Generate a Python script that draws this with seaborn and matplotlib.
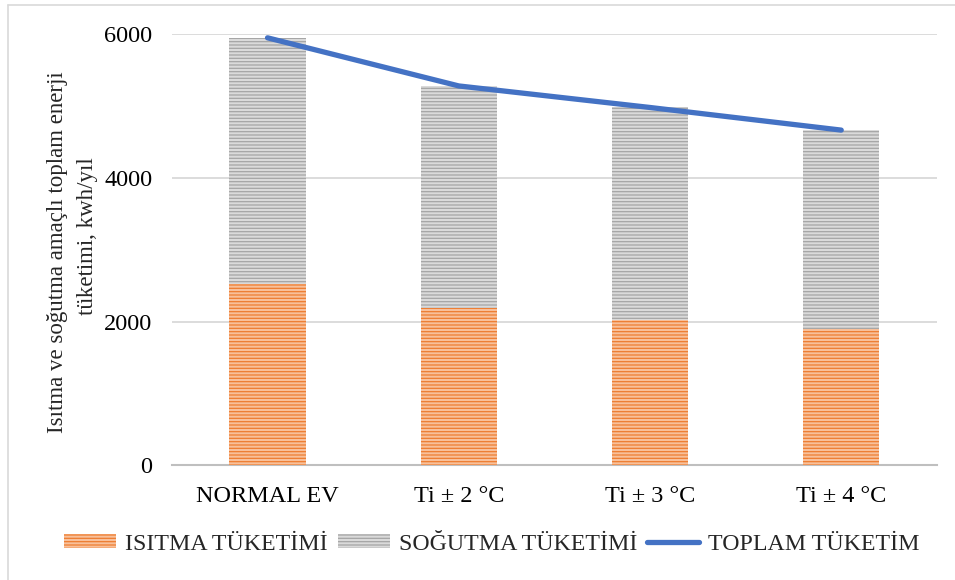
import matplotlib
matplotlib.use("Agg")
import matplotlib.pyplot as plt
from matplotlib.patches import Patch
from matplotlib.lines import Line2D
import seaborn as sns
import pandas as pd

# Energy consumption per scenario (kWh/year)
categories = ["NORMAL EV", "Ti ± 2 °C", "Ti ± 3 °C", "Ti ± 4 °C"]
heating = [2520, 2185, 2020, 1895]
cooling = [3430, 3095, 2960, 2770]
total = [h + c for h, c in zip(heating, cooling)]

yticks = [0, 2000, 4000, 6000]
series_names = ["ISITMA TÜKETİMİ", "SOĞUTMA TÜKETİMİ", "TOPLAM TÜKETİM"]
ylabel_lines = ["Isıtma ve soğutma amaçlı toplam enerji", "tüketimi, kwh/yıl"]

df = pd.DataFrame({"kategori": categories, "isitma": heating,
                   "sogutma": cooling, "toplam": total})

sns.set_theme(style="white")
plt.rcParams["font.family"] = ["Liberation Serif", "DejaVu Serif"]
plt.rcParams["hatch.linewidth"] = 0.9

FS = 17.5
ORANGE_FACE, ORANGE_HATCH = "#F8C09A", "#ED7D31"
GRAY_FACE, GRAY_HATCH = "#DADADA", "#A5A5A5"
BLUE = "#4472C4"
HATCH = "-----"

W, H = 955, 580
fig = plt.figure(figsize=(W / 100, H / 100), dpi=100)
ax = fig.add_axes([0.180, 0.198, 0.801, 0.743])

# stacked bars: full total in gray, heating part drawn over it in orange
sns.barplot(data=df, x="kategori", y="toplam", ax=ax, color=GRAY_FACE,
            saturation=1, width=0.4, edgecolor=GRAY_HATCH, linewidth=0,
            hatch=HATCH, zorder=2)
sns.barplot(data=df, x="kategori", y="isitma", ax=ax, color=ORANGE_FACE,
            saturation=1, width=0.4, edgecolor=ORANGE_HATCH, linewidth=0,
            hatch=HATCH, zorder=3)
for p in ax.patches:
    p.set_linewidth(0)

sns.lineplot(data=df, x="kategori", y="toplam", ax=ax, color=BLUE,
             linewidth=3.8, sort=False, zorder=4,
             solid_capstyle="round", solid_joinstyle="round")
for ln in ax.lines:
    ln.set_clip_on(False)

ax.set_xlim(-0.5, 3.5)
ax.set_ylim(0, 6000)
ax.set_yticks(yticks)
ax.set_yticklabels([str(t) for t in yticks])
ax.yaxis.grid(True, color="#D9D9D9", linewidth=1.3, zorder=0)
ax.set_axisbelow(True)
for side in ["top", "right", "left"]:
    ax.spines[side].set_visible(False)
ax.spines["bottom"].set_color("#BFBFBF")
ax.spines["bottom"].set_linewidth(1.5)
ax.spines["bottom"].set_zorder(1)
ax.tick_params(axis="both", length=0, labelsize=FS, colors="black")
ax.tick_params(axis="y", pad=14)
ax.tick_params(axis="x", pad=15)
ax.set_xlabel("")
ax.set_ylabel("")

# two-line vertical axis title
fig.text(57 / W, 1 - 252 / H, ylabel_lines[0], rotation=90, ha="center",
         va="center", fontsize=16.5)
fig.text(87 / W, 1 - 236 / H, ylabel_lines[1], rotation=90, ha="center",
         va="center", fontsize=16.5)

handles = [
    Patch(facecolor=ORANGE_FACE, edgecolor=ORANGE_HATCH, hatch=HATCH, linewidth=0),
    Patch(facecolor=GRAY_FACE, edgecolor=GRAY_HATCH, hatch=HATCH, linewidth=0),
    Line2D([0], [0], color=BLUE, linewidth=3.8, solid_capstyle="round"),
]
fig.legend(handles, series_names, loc="center", bbox_to_anchor=(0.515, 0.062),
           ncol=3, frameon=False, fontsize=17.2, handlelength=2.2,
           handleheight=0.55, handletextpad=0.37, columnspacing=0.4)

# thin frame around the chart area
fig.add_artist(Line2D([8 / W, 8 / W], [0, 1 - 5 / H], color="#D9D9D9",
                      linewidth=1.2, transform=fig.transFigure))
fig.add_artist(Line2D([8 / W, 1], [1 - 5 / H, 1 - 5 / H], color="#D9D9D9",
                      linewidth=1.2, transform=fig.transFigure))

fig.savefig("out.png", dpi=100, facecolor="white")
